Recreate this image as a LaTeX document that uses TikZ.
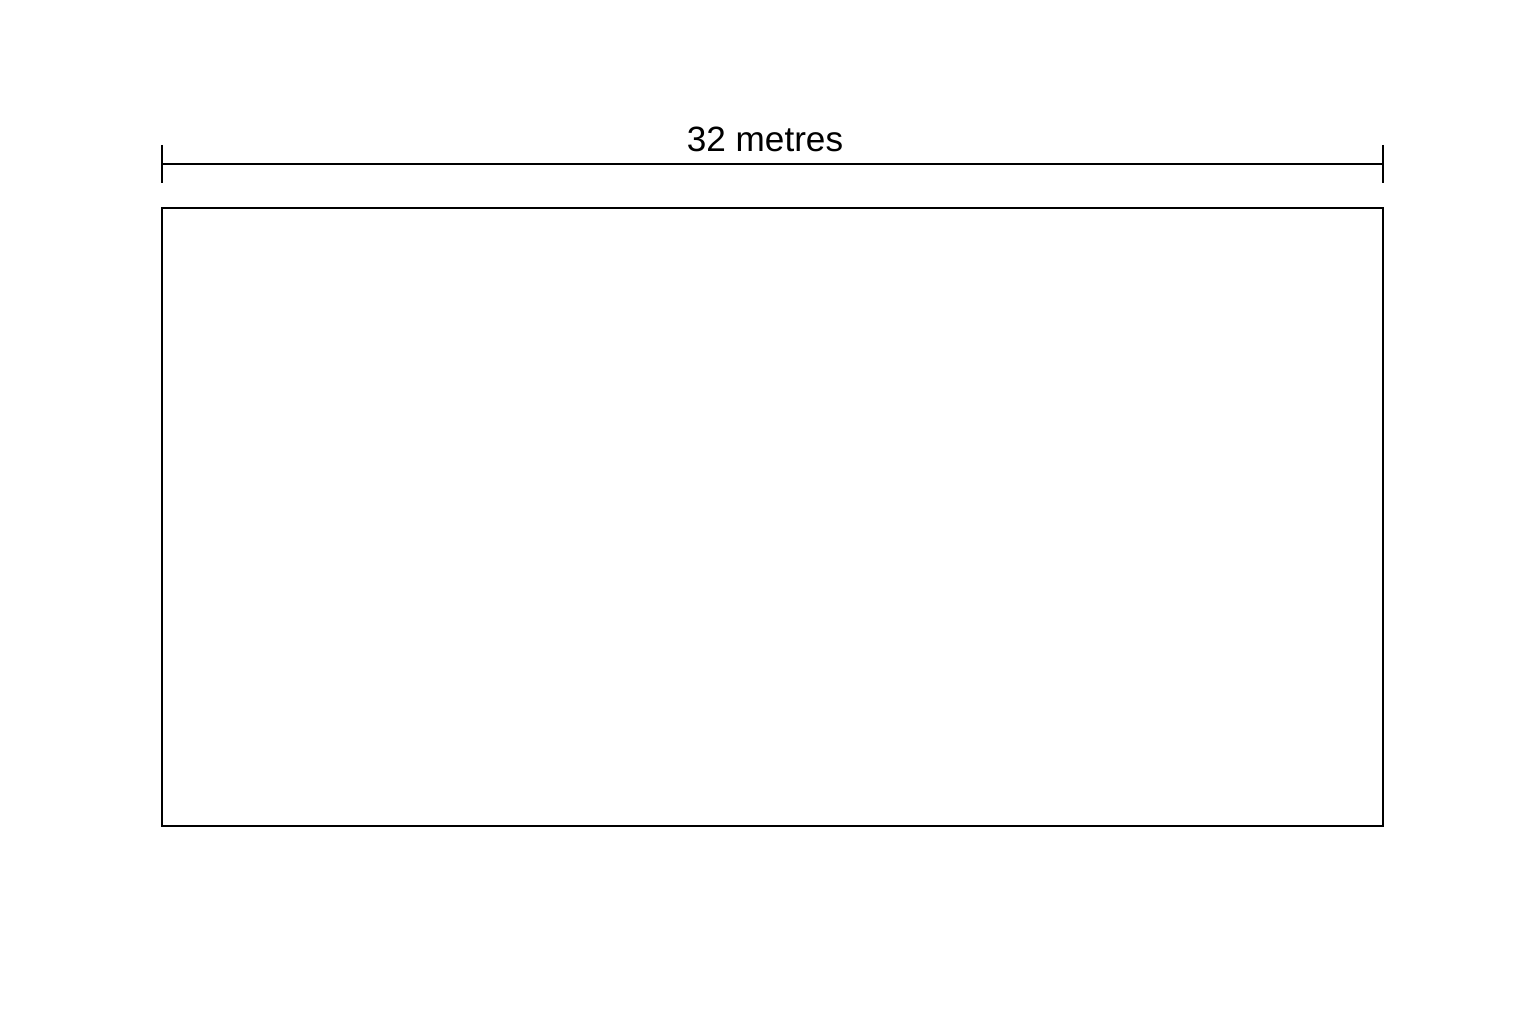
\documentclass[tikz,border=0pt]{standalone}
\usepackage{fontspec}
\setmainfont{Liberation Sans}
\begin{document}
\begin{tikzpicture}
        \tikzset{
            plot/.style={
                    draw=black,
                    line width=0.6pt,
                },
            dimline/.style={line width=0.6pt},
            dimlabel/.style={font=\fontsize{10}{12}\selectfont, inner sep=0pt},
        }
        \useasboundingbox (0, 0) rectangle (15.36, 10.24);
        % \draw (0, 0) grid (15, 10);
        \node[plot, minimum width=12.21cm, minimum height=6.18cm, inner sep=0pt] (field) at (7.725, 5.07) {};
        \coordinate (left) at (1.62, 8.60);
        \coordinate (right) at (13.83, 8.60);
        \draw[dimline] (left) -- (right);
        \draw[dimline] ([yshift=0.19cm]left) -- ([yshift=-0.19cm]left);
        \draw[dimline] ([yshift=0.19cm]right) -- ([yshift=-0.19cm]right);
        \node[dimlabel, anchor=base] (width) at (7.65, 8.72) {32 metres};
    \end{tikzpicture}
\end{document}
